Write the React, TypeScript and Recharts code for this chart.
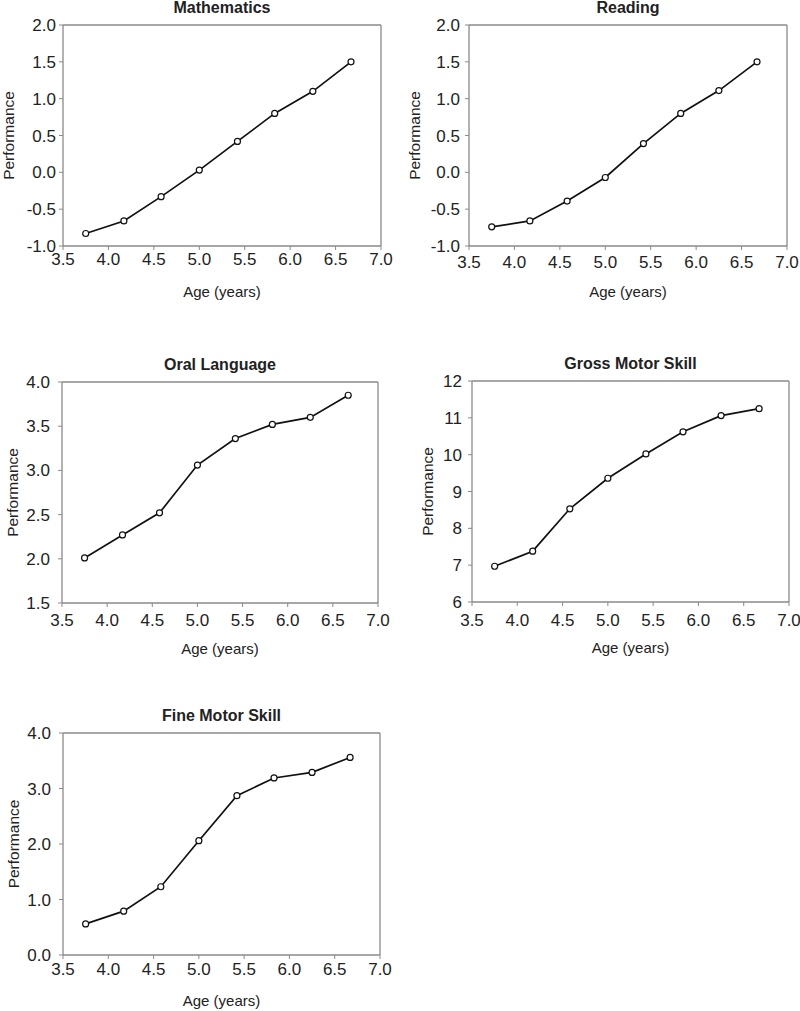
import { LineChart, Line, XAxis, YAxis, ReferenceLine, Label } from "recharts";

// ages at measurement (years)
const ages = [3.75, 4.17, 4.58, 5.0, 5.42, 5.83, 6.25, 6.67];
const xTicks = [3.5, 4.0, 4.5, 5.0, 5.5, 6.0, 6.5, 7.0];

const mathematics = [-0.83, -0.66, -0.33, 0.03, 0.42, 0.8, 1.1, 1.5];
const reading = [-0.74, -0.66, -0.39, -0.07, 0.39, 0.8, 1.11, 1.5];
const oralLanguage = [2.01, 2.27, 2.52, 3.06, 3.36, 3.52, 3.6, 3.85];
const grossMotor = [6.97, 7.38, 8.53, 9.36, 10.02, 10.62, 11.06, 11.25];
const fineMotor = [0.56, 0.79, 1.23, 2.06, 2.87, 3.19, 3.29, 3.56];

const halfTicksA = [-1.0, -0.5, 0.0, 0.5, 1.0, 1.5, 2.0];
const halfTicksB = [1.5, 2.0, 2.5, 3.0, 3.5, 4.0];
const grossTicks = [6, 7, 8, 9, 10, 11, 12];
const fineTicks = [0, 1, 2, 3, 4];

const FONT = "'Liberation Sans', Arial, Helvetica, sans-serif";
const FRAME = "#8a8a8a";
const INK = "#222";

const LEFT = 63;
const TOP = 25;
const RIGHT = 14;
const BOTTOM = 55;

type PanelProps = {
  title: string;
  values: number[];
  yTicks: number[];
  decimals: number;
  x: number;
  y: number;
  w: number;
  h: number;
  labelGap: number;
  yGap: number;
  xGap: number;
};

function Panel({ title, values, yTicks, decimals, x, y, w, h, labelGap, yGap, xGap }: PanelProps) {
  const data = ages.map((age, i) => ({ age, value: values[i] }));
  const yMin = yTicks[0];
  const yMax = yTicks[yTicks.length - 1];
  const width = w + LEFT + RIGHT;
  const height = h + TOP + BOTTOM;

  return (
    <div style={{ position: "absolute", left: x - LEFT, top: y - TOP, width, height }}>
      <div
        style={{
          position: "absolute",
          left: LEFT,
          top: 0,
          width: w,
          textAlign: "center",
          fontWeight: "bold",
          fontSize: 16,
          lineHeight: "16px",
          color: INK,
        }}
      >
        {title}
      </div>
      <LineChart width={width} height={height} data={data} margin={{ top: TOP, right: RIGHT, bottom: 0, left: 8 }}>
        <XAxis
          dataKey="age"
          type="number"
          domain={[3.5, 7]}
          ticks={xTicks}
          interval={0}
          tickFormatter={(v: number) => v.toFixed(1)}
          height={BOTTOM}
          tickSize={4}
          tickMargin={xGap}
          axisLine={{ stroke: FRAME, strokeWidth: 1.3 }}
          tickLine={{ stroke: FRAME }}
          tick={{ fill: INK, fontSize: 17 }}
        >
          <Label
            content={({ viewBox }: any) => (
              <text
                x={viewBox.x + viewBox.width / 2}
                y={viewBox.y + 46}
                dy="0.35em"
                textAnchor="middle"
                fill={INK}
                fontSize={15}
              >
                Age (years)
              </text>
            )}
          />
        </XAxis>
        <YAxis
          type="number"
          domain={[yMin, yMax]}
          ticks={yTicks}
          interval={0}
          tickFormatter={(v: number) => v.toFixed(decimals)}
          width={55}
          tickSize={4}
          tickMargin={yGap}
          axisLine={{ stroke: FRAME, strokeWidth: 1.3 }}
          tickLine={{ stroke: FRAME }}
          tick={{ fill: INK, fontSize: 17 }}
        >
          <Label
            content={({ viewBox }: any) => {
              const cx = viewBox.x + viewBox.width - labelGap;
              const cy = viewBox.y + viewBox.height / 2;
              return (
                <text
                  x={cx}
                  y={cy}
                  dy="0.35em"
                  textAnchor="middle"
                  fill={INK}
                  fontSize={15.5}
                  transform={`rotate(-90 ${cx} ${cy})`}
                >
                  Performance
                </text>
              );
            }}
          />
        </YAxis>
        <ReferenceLine y={yMax} stroke={FRAME} strokeWidth={1.3} />
        <ReferenceLine x={7} stroke={FRAME} strokeWidth={1.3} />
        <Line
          type="linear"
          dataKey="value"
          stroke="#111"
          strokeWidth={1.7}
          dot={{ r: 3, fill: "#fff", stroke: "#111", strokeWidth: 1.2 }}
          activeDot={false}
          isAnimationActive={false}
        />
      </LineChart>
    </div>
  );
}

export default function App() {
  return (
    <div
      style={{
        position: "absolute",
        left: 0,
        top: 0,
        width: 800,
        height: 1011,
        background: "#fff",
        fontFamily: FONT,
      }}
    >
      <Panel title="Mathematics" values={mathematics} yTicks={halfTicksA} decimals={1} x={63} y={25} w={318} h={221} labelGap={54} yGap={3} xGap={3} />
      <Panel title="Reading" values={reading} yTicks={halfTicksA} decimals={1} x={469} y={25} w={318} h={221} labelGap={54} yGap={5} xGap={6} />
      <Panel title="Oral Language" values={oralLanguage} yTicks={halfTicksB} decimals={1} x={62} y={382} w={316} h={221} labelGap={49} yGap={8} xGap={7} />
      <Panel title="Gross Motor Skill" values={grossMotor} yTicks={grossTicks} decimals={0} x={472} y={381} w={317} h={221} labelGap={44} yGap={6} xGap={8} />
      <Panel title="Fine Motor Skill" values={fineMotor} yTicks={fineTicks} decimals={1} x={63} y={733} w={317} h={222} labelGap={49} yGap={8} xGap={4} />
    </div>
  );
}
